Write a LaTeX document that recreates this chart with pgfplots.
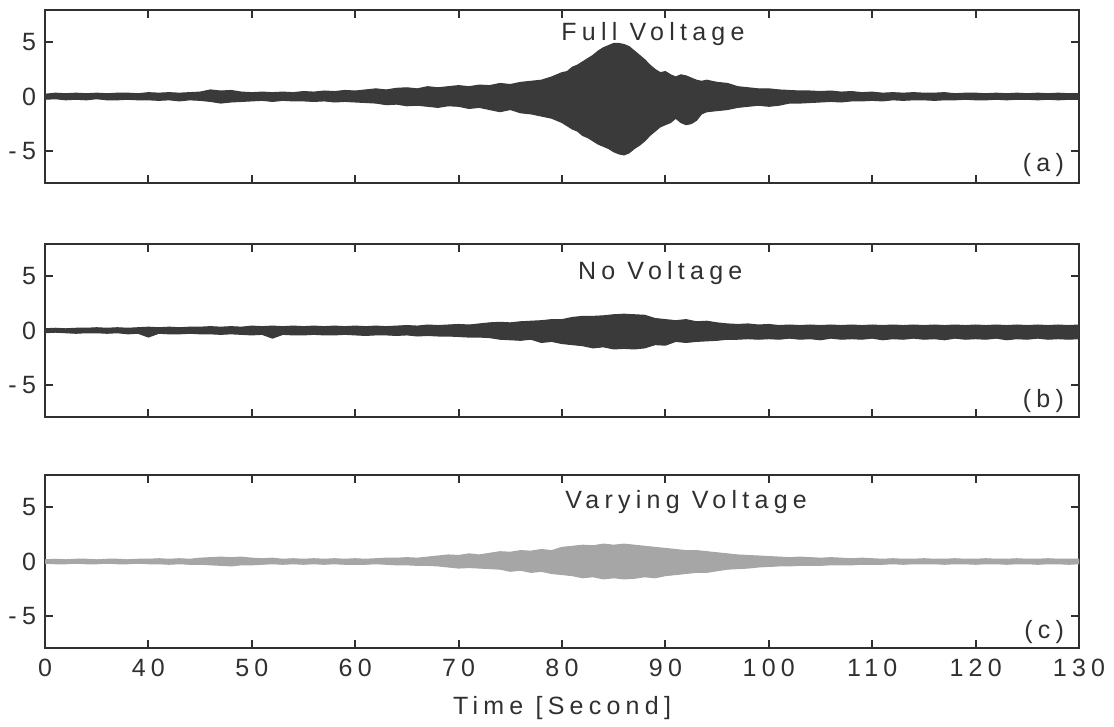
\documentclass[border=0pt]{standalone}
\usepackage{fontspec}
\setmainfont{Liberation Sans}[LetterSpace=21]
\usepackage{pgfplots}
\usepackage{pgfplotstable}
\pgfplotsset{compat=1.18}

\definecolor{ink}{HTML}{303030}
\definecolor{trace}{HTML}{3A3A3A}
\definecolor{tracelight}{HTML}{A6A6A6}

% envelope of each trace: time, upper, lower
\pgfplotstableread{
x up lo
30 0.2 -0.25
31 0.3 -0.2
32 0.25 -0.3
33 0.3 -0.25
34 0.25 -0.3
35 0.3 -0.2
36 0.25 -0.3
37 0.3 -0.3
38 0.3 -0.25
39 0.25 -0.3
40 0.35 -0.3
41 0.3 -0.35
42 0.35 -0.3
43 0.3 -0.4
44 0.35 -0.3
45 0.4 -0.35
46 0.6 -0.45
47 0.5 -0.6
48 0.55 -0.5
49 0.4 -0.45
50 0.35 -0.4
51 0.4 -0.35
52 0.35 -0.45
53 0.4 -0.35
54 0.35 -0.4
55 0.45 -0.4
56 0.4 -0.45
57 0.5 -0.4
58 0.45 -0.5
59 0.55 -0.45
60 0.5 -0.5
61 0.6 -0.55
62 0.7 -0.6
63 0.6 -0.75
64 0.75 -0.7
65 0.8 -0.85
66 0.7 -0.8
67 0.9 -0.9
68 0.8 -1.0
69 0.9 -0.85
70 1.0 -0.9
71 0.9 -1.1
72 1.05 -1.0
73 1.0 -1.2
74 1.2 -1.4
75 1.1 -1.2
76 1.3 -1.5
77 1.4 -1.6
78 1.5 -1.8
79 1.8 -2.0
80 2.2 -2.4
80.5 2.3 -2.7
81 2.7 -3.0
81.5 2.9 -3.2
82 3.2 -3.6
82.5 3.5 -3.8
83 3.8 -4.1
83.5 4.2 -4.4
84 4.5 -4.6
84.5 4.7 -4.8
85 4.9 -5.1
85.5 4.9 -5.3
86 4.8 -5.4
86.5 4.6 -5.2
87 4.2 -4.8
87.5 3.8 -4.5
88 3.4 -4.1
88.5 2.9 -3.6
89 2.5 -3.2
89.5 2.2 -2.8
90 2.3 -2.6
90.5 2.0 -2.4
91 1.8 -2.0
91.5 2.0 -2.4
92 1.9 -2.6
92.5 1.7 -2.5
93 1.5 -2.2
93.5 1.4 -1.6
94 1.5 -1.4
95 1.3 -1.3
96 1.2 -1.2
97 0.9 -1.0
98 0.8 -0.9
99 0.7 -0.8
100 0.7 -0.9
101 0.6 -0.8
102 0.55 -0.6
103 0.5 -0.6
104 0.5 -0.55
105 0.45 -0.5
106 0.5 -0.45
107 0.4 -0.5
108 0.45 -0.4
109 0.35 -0.4
110 0.4 -0.35
111 0.3 -0.4
112 0.35 -0.3
113 0.3 -0.35
114 0.35 -0.3
115 0.3 -0.3
116 0.3 -0.35
117 0.35 -0.3
118 0.25 -0.3
119 0.3 -0.25
120 0.3 -0.3
121 0.25 -0.3
122 0.3 -0.25
123 0.25 -0.3
124 0.3 -0.25
125 0.25 -0.25
126 0.3 -0.3
127 0.25 -0.25
128 0.3 -0.3
129 0.25 -0.25
130 0.25 -0.25
}\fullv

\pgfplotstableread{
x up lo
30 0.15 -0.2
31 0.2 -0.15
32 0.15 -0.2
33 0.2 -0.25
34 0.2 -0.2
35 0.25 -0.2
36 0.2 -0.25
37 0.25 -0.2
38 0.2 -0.3
39 0.25 -0.25
40 0.3 -0.6
41 0.25 -0.25
42 0.3 -0.3
43 0.25 -0.3
44 0.3 -0.25
45 0.3 -0.3
46 0.35 -0.3
47 0.3 -0.35
48 0.35 -0.3
49 0.3 -0.35
50 0.4 -0.4
51 0.35 -0.35
52 0.4 -0.7
53 0.35 -0.35
54 0.4 -0.4
55 0.35 -0.4
56 0.4 -0.35
57 0.35 -0.4
58 0.4 -0.4
59 0.35 -0.35
60 0.4 -0.4
61 0.35 -0.45
62 0.4 -0.4
63 0.35 -0.4
64 0.4 -0.45
65 0.45 -0.4
66 0.4 -0.5
67 0.5 -0.45
68 0.45 -0.5
69 0.5 -0.5
70 0.55 -0.55
71 0.5 -0.6
72 0.6 -0.6
73 0.7 -0.65
74 0.75 -0.8
75 0.7 -0.85
76 0.8 -0.9
77 0.85 -0.8
78 0.9 -1.1
79 1.0 -1.0
80 1.0 -1.2
81 1.2 -1.3
82 1.3 -1.4
83 1.3 -1.6
84 1.35 -1.5
85 1.45 -1.7
86 1.5 -1.65
87 1.45 -1.7
88 1.4 -1.6
89 1.1 -1.3
90 1.0 -1.35
91 0.9 -1.0
92 1.0 -1.1
93 0.8 -1.0
94 0.85 -0.95
95 0.7 -0.9
96 0.6 -0.8
97 0.55 -0.8
98 0.6 -0.75
99 0.5 -0.8
100 0.55 -0.75
101 0.45 -0.8
102 0.5 -0.7
103 0.45 -0.8
104 0.5 -0.75
105 0.45 -0.85
106 0.5 -0.7
107 0.45 -0.8
108 0.5 -0.75
109 0.45 -0.8
110 0.5 -0.7
111 0.45 -0.85
112 0.5 -0.75
113 0.45 -0.8
114 0.5 -0.7
115 0.45 -0.8
116 0.5 -0.75
117 0.45 -0.85
118 0.5 -0.7
119 0.45 -0.8
120 0.5 -0.75
121 0.45 -0.8
122 0.5 -0.7
123 0.45 -0.85
124 0.5 -0.75
125 0.45 -0.8
126 0.5 -0.7
127 0.45 -0.8
128 0.5 -0.75
129 0.45 -0.8
130 0.5 -0.75
}\nov

\pgfplotstableread{
x up lo
30 0.15 -0.15
31 0.2 -0.2
32 0.15 -0.2
33 0.2 -0.15
34 0.2 -0.2
35 0.15 -0.2
36 0.2 -0.15
37 0.2 -0.2
38 0.15 -0.2
39 0.2 -0.15
40 0.2 -0.2
41 0.25 -0.2
42 0.2 -0.25
43 0.25 -0.2
44 0.2 -0.25
45 0.3 -0.25
46 0.35 -0.3
47 0.4 -0.35
48 0.35 -0.4
49 0.4 -0.3
50 0.3 -0.3
51 0.25 -0.25
52 0.3 -0.2
53 0.2 -0.25
54 0.25 -0.2
55 0.2 -0.25
56 0.25 -0.2
57 0.2 -0.25
58 0.25 -0.2
59 0.2 -0.25
60 0.25 -0.25
61 0.2 -0.25
62 0.25 -0.2
63 0.3 -0.25
64 0.3 -0.3
65 0.35 -0.3
66 0.3 -0.35
67 0.4 -0.35
68 0.5 -0.4
69 0.6 -0.5
70 0.55 -0.6
71 0.7 -0.55
72 0.6 -0.6
73 0.75 -0.65
74 0.9 -0.7
75 0.85 -0.9
76 1.0 -0.8
77 0.95 -1.0
78 1.1 -0.9
79 1.0 -1.1
80 1.3 -1.2
81 1.4 -1.3
82 1.5 -1.5
83 1.45 -1.4
84 1.6 -1.6
85 1.5 -1.5
86 1.6 -1.6
87 1.5 -1.55
88 1.4 -1.4
89 1.3 -1.5
90 1.2 -1.3
91 1.1 -1.2
92 1.0 -1.1
93 1.0 -1.0
94 0.9 -1.0
95 0.8 -0.85
96 0.7 -0.7
97 0.6 -0.65
98 0.55 -0.6
99 0.5 -0.5
100 0.45 -0.45
101 0.4 -0.4
102 0.35 -0.4
103 0.4 -0.35
104 0.35 -0.35
105 0.3 -0.35
106 0.35 -0.3
107 0.3 -0.3
108 0.25 -0.3
109 0.3 -0.25
110 0.25 -0.25
111 0.2 -0.25
112 0.25 -0.2
113 0.2 -0.25
114 0.2 -0.2
115 0.25 -0.2
116 0.2 -0.2
117 0.2 -0.25
118 0.25 -0.2
119 0.2 -0.2
120 0.2 -0.25
121 0.25 -0.2
122 0.2 -0.2
123 0.2 -0.25
124 0.25 -0.2
125 0.2 -0.2
126 0.2 -0.25
127 0.25 -0.2
128 0.2 -0.2
129 0.2 -0.25
130 0.2 -0.2
}\varv

\pgfplotsset{
  panel/.style={
    scale only axis, width=517pt, height=86.5pt, anchor=south west,
    xmin=30, xmax=130, ymin=-8, ymax=8,
    xtick={40,50,...,120}, xticklabels={},
    ytick={-5,0,5}, yticklabels={-5,0,5},
    tick align=inside, xtick pos=both, ytick pos=both,
    major tick length=4pt,
    axis line style={ink, line width=1pt},
    every tick/.append style={ink, line width=1pt},
    tick label style={font=\fontsize{12.5}{14}\selectfont, text=ink},
    yticklabel style={xshift=-1pt},
  },
  band/.style={fill=#1, draw=#1, line width=0.6pt},
}

\begin{document}
\begin{tikzpicture}[font=\fontsize{12.5}{14}\selectfont]

\begin{axis}[panel, at={(22.5pt,269pt)}]
\addplot[band=trace] table[x=x,y=up] {\fullv} \closedcycle;
\addplot[band=trace] table[x=x,y=lo] {\fullv} \closedcycle;
\node[text=ink] at (axis cs:88.8,5.8) {Full Voltage};
\node[text=ink, anchor=east] at (rel axis cs:1,0) [xshift=-4pt, yshift=9pt] {(a)};
\end{axis}

\begin{axis}[panel, at={(22.5pt,152pt)}]
\addplot[band=trace] table[x=x,y=up] {\nov} \closedcycle;
\addplot[band=trace] table[x=x,y=lo] {\nov} \closedcycle;
\node[text=ink] at (axis cs:89.5,5.3) {No Voltage};
\node[text=ink, anchor=east] at (rel axis cs:1,0) [xshift=-4pt, yshift=8pt] {(b)};
\end{axis}

\begin{axis}[panel, at={(22.5pt,36.5pt)},
  xtick={30,40,...,130}, xticklabels={0,40,50,60,70,80,90,100,110,120,130},
  xticklabel style={yshift=-2pt},
  xlabel={Time [Second]}, xlabel style={text=ink, yshift=-3pt}]
\addplot[band=tracelight] table[x=x,y=up] {\varv} \closedcycle;
\addplot[band=tracelight] table[x=x,y=lo] {\varv} \closedcycle;
\node[text=ink] at (axis cs:92,5.5) {Varying Voltage};
\node[text=ink, anchor=east] at (rel axis cs:1,0) [xshift=-4pt, yshift=8pt] {(c)};
\end{axis}

\path[use as bounding box] (0pt,0pt) rectangle (557pt,360.5pt);
\end{tikzpicture}
\end{document}
